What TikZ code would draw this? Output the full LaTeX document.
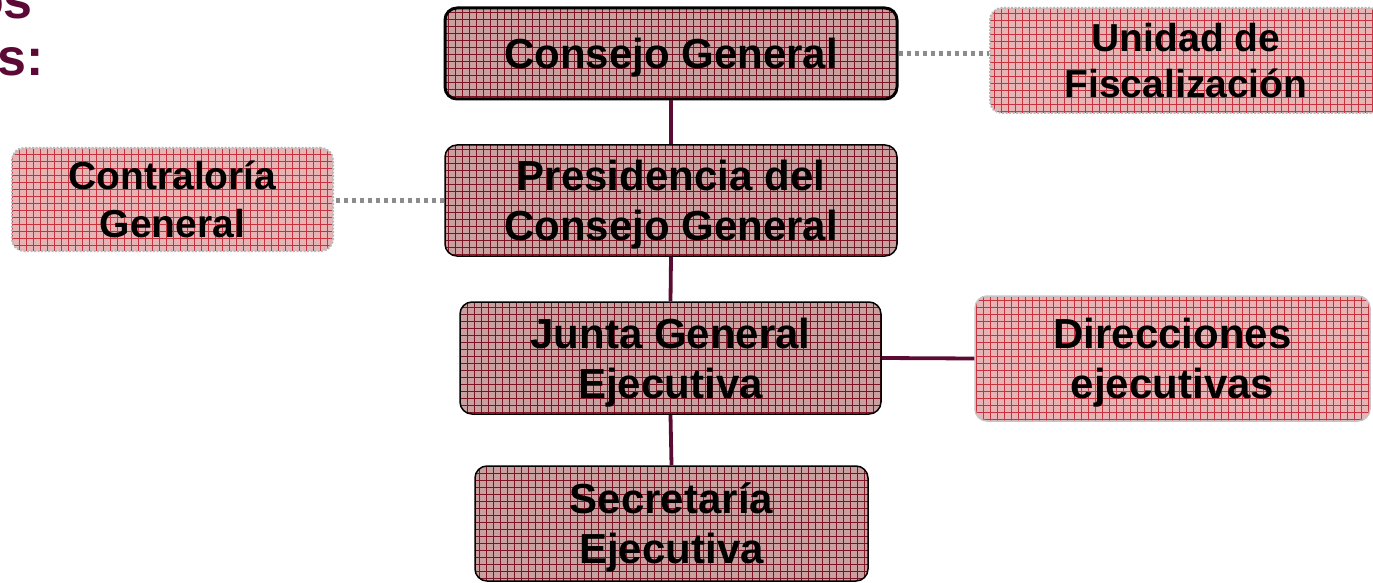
\documentclass[tikz,border=0pt]{standalone}
\usepackage{fontspec}
\setmainfont{Liberation Sans}
\definecolor{mainfill}{RGB}{200,160,160}
\definecolor{maingrid}{RGB}{125,20,35}
\definecolor{sidefill}{RGB}{230,180,180}
\definecolor{sidegrid}{RGB}{200,50,62}
\definecolor{linkcol}{RGB}{92,12,52}
\definecolor{dotcol}{RGB}{140,140,140}
\definecolor{titlecol}{RGB}{92,10,53}
\tikzset{
  x=1pt, y=-1pt,
  txt/.style={font=\bfseries\fontsize{42}{50}\selectfont, align=center, text=black, inner sep=0pt, text depth=0pt},
  mainbox/.style={txt, rounded corners=12pt, draw=black, line width=1.5pt, fill=mainfill,
    path picture={\draw[maingrid, line width=0.45pt] (path picture bounding box.south west) grid[step=7pt] (path picture bounding box.north east);}},
  sidebox/.style={txt, rounded corners=12pt, draw=gray!55, line width=2pt, dash pattern=on 2pt off 1.5pt, fill=sidefill,
    path picture={\draw[sidegrid, line width=0.45pt, solid] (path picture bounding box.south west) grid[step=7pt] (path picture bounding box.north east);}},
  link/.style={draw=linkcol, line width=3.8pt},
  dotlink/.style={draw=dotcol, line width=5pt, dash pattern=on 4pt off 4pt},
}
\begin{document}
\begin{tikzpicture}
\useasboundingbox (0,0) rectangle (1373,583);
\clip (0,0) rectangle (1373,583);
\fill[white] (0,0) rectangle (1373,583);
% title fragments
\node[font=\bfseries\fontsize{52}{57}\selectfont, text=titlecol, anchor=base east, inner sep=0pt] (t1) at (33,19) {os};
\node[font=\bfseries\fontsize{52}{57}\selectfont, text=titlecol, anchor=base east, inner sep=0pt] (t2) at (44,76) {s:};
% main nodes
\node[mainbox, line width=3pt, minimum width=452, minimum height=91] (cg) at (671,53.5) {Consejo General};
\node[mainbox, minimum width=452, minimum height=111] (pcg) at (671,200.5) {Presidencia del\\Consejo General};
\node[mainbox, minimum width=421, minimum height=112] (jge) at (670.5,358) {Junta General\\Ejecutiva};
\node[mainbox, minimum width=393, minimum height=115] (se) at (671.5,523.5) {Secretaría\\Ejecutiva};
% side nodes
\node[sidebox, font=\bfseries\fontsize{39}{46}\selectfont, minimum width=392, minimum height=105] (uf) at (1186,60.5) {Unidad de\\Fiscalización};
\node[sidebox, font=\bfseries\fontsize{39}{48}\selectfont, minimum width=321, minimum height=103] (cog) at (172.5,199.5) {Contraloría\\General};
\node[txt, rounded corners=12pt, draw=gray!45, line width=1.5pt, fill=sidefill,
  path picture={\draw[sidegrid, line width=0.45pt] (path picture bounding box.south west) grid[step=7pt] (path picture bounding box.north east);},
  minimum width=395, minimum height=125] (de) at (1172.5,358.5) {Direcciones\\ejecutivas};
% connectors
\draw[link] (cg.south) -- (pcg.north);
\draw[link] (pcg.south) -- (jge.north);
\draw[link] (jge.south) -- (se.north);
\draw[link] (jge.east) -- (de.west);
\draw[dotlink] (cg.east) -- (uf.west |- cg.east);
\draw[dotlink] (pcg.west) -- (cog.east |- pcg.west);
\end{tikzpicture}
\end{document}
